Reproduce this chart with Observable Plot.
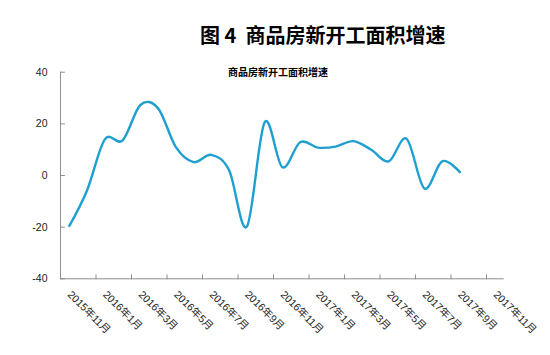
<!DOCTYPE html>
<html><head><meta charset="utf-8">
<script src="https://cdn.jsdelivr.net/npm/d3@7"></script>
<script src="https://cdn.jsdelivr.net/npm/@observablehq/plot@0.6"></script>
<style>
html,body{margin:0;padding:0;background:#fff}
#wrap{position:relative;width:550px;height:355px;overflow:hidden;font-family:"Liberation Sans","Noto Sans CJK SC",sans-serif}
#title{position:absolute;left:200px;top:21px;font:700 20px "Noto Sans CJK SC",sans-serif;line-height:28px;white-space:pre;color:#000}
#sub{position:absolute;left:228px;top:64px;font:700 10px "Noto Sans CJK SC",sans-serif;line-height:16px;white-space:pre;color:#000}
#chart{position:absolute;left:0;top:0}
</style></head>
<body><div id="wrap"><div id="chart"></div><div id="title">图 4  商品房新开工面积增速</div><div id="sub">商品房新开工面积增速</div></div>
<script>
const months = ["2015年11月","2015年12月","2016年1月","2016年2月","2016年3月","2016年4月","2016年5月","2016年6月","2016年7月","2016年8月","2016年9月","2016年10月","2016年11月","2016年12月","2017年1月","2017年2月","2017年3月","2017年4月","2017年5月","2017年6月","2017年7月","2017年8月","2017年9月","2017年10月","2017年11月"];
const growth = [-19.5, -5.7, 14.0, 13.6, 27.3, 26.0, 11.0, 5.2, 8.0, 2.0, -19.8, 20.6, 3.2, 12.9, 10.8, 11.2, 13.3, 10.0, 5.5, 14.2, -5.0, 5.5, 1.3];
const yTicks = [-40, -20, 0, 20, 40];

const data = growth.map((v, i) => ({i, v, month: months[i]}));
const labelIdx = months.map((m, i) => i).filter(i => i % 2 === 0);
const tickPos = labelIdx.map(i => i - 0.5);
const axisColor = "#8e8e8e";
const tickShape = {draw(ctx, l) { ctx.moveTo(0, 0); ctx.lineTo(0, -l); }};

const chart = Plot.plot({
  width: 550, height: 355,
  marginLeft: 60, marginRight: 46.25, marginTop: 71.7, marginBottom: 76.7,
  style: {fontFamily: '"Liberation Sans","Noto Sans CJK SC",sans-serif', background: "transparent"},
  x: {domain: [-0.5, 24.5], axis: null},
  y: {domain: [-40, 40], axis: null},
  marks: [
    Plot.ruleX([-0.5], {stroke: axisColor, strokeWidth: 1}),
    Plot.ruleY([-40], {stroke: axisColor, strokeWidth: 1}),
    Plot.vector(yTicks, {x: -0.5, y: d => d, length: 4, rotate: 90, anchor: "start", shape: tickShape, stroke: axisColor, strokeWidth: 1}),
    Plot.vector(tickPos, {x: d => d, y: -40, length: 4, rotate: 0, anchor: "start", shape: tickShape, stroke: axisColor, strokeWidth: 1}),
    Plot.text(yTicks, {x: -0.5, y: d => d, text: d => String(d), textAnchor: "end", dx: -13, fontSize: 10.5, fill: "#222"}),
    Plot.text(labelIdx, {x: i => i, frameAnchor: "bottom", text: i => months[i], rotate: 45, textAnchor: "start", lineAnchor: "middle", dy: 14, fontSize: 10.5, fill: "#222"}),
    Plot.line(data, {x: "i", y: "v", curve: "cardinal", stroke: "#1f9fd0", strokeWidth: 2.4})
  ]
});
document.getElementById("chart").appendChild(chart);
</script>
</body></html>
